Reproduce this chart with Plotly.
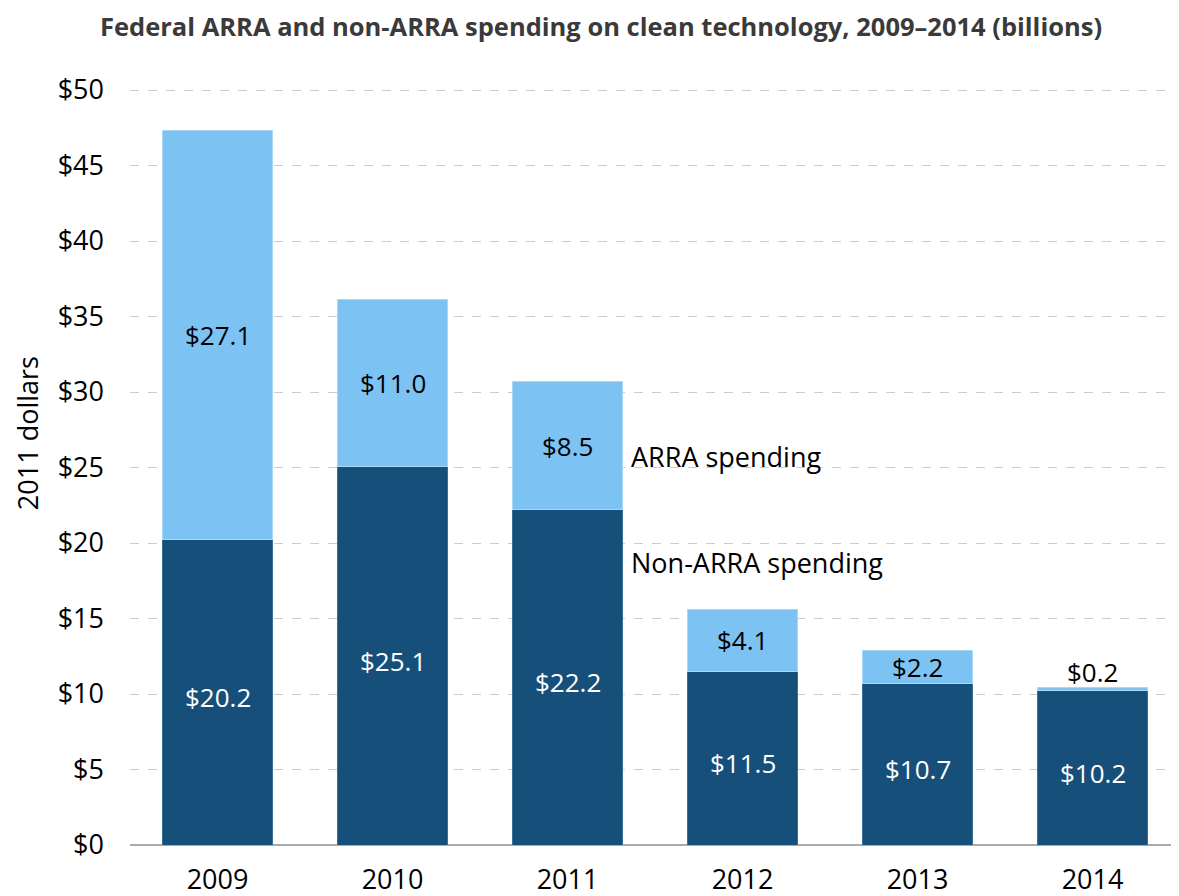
import plotly.graph_objects as go

years = ["2009", "2010", "2011", "2012", "2013", "2014"]
non_arra = [20.2, 25.1, 22.2, 11.5, 10.7, 10.2]
arra = [27.1, 11.0, 8.5, 4.1, 2.2, 0.2]
y_ticks = [0, 5, 10, 15, 20, 25, 30, 35, 40, 45, 50]
y_tick_labels = ["$" + str(v) for v in y_ticks]

DARK = "#174f7b"
LIGHT = "#7cc3f4"
FONT = "Open Sans"

fig = go.Figure()
fig.add_trace(go.Bar(x=years, y=non_arra, name="Non-ARRA spending",
                     marker=dict(color=DARK, line=dict(color="#3d6f96", width=1))))
fig.add_trace(go.Bar(x=years, y=arra, name="ARRA spending",
                     marker=dict(color=LIGHT, line=dict(color="#a9d7f7", width=1))))

annotations = []
for i, (d, a) in enumerate(zip(non_arra, arra)):
    annotations.append(dict(x=i, y=d / 2, xref="x", yref="y", text="$%.1f" % d,
                            showarrow=False, yshift=-5,
                            font=dict(color="white", size=26, family=FONT)))
    if a >= 1:
        annotations.append(dict(x=i, y=d + a / 2, xref="x", yref="y", text="$%.1f" % a,
                                showarrow=False,
                                font=dict(color="black", size=26, family=FONT)))
    else:
        annotations.append(dict(x=i, y=d + a, xref="x", yref="y", text="$%.1f" % a,
                                showarrow=False, yanchor="bottom", yshift=-4,
                                font=dict(color="black", size=26, family=FONT)))

# series labels next to the 2011 bar
annotations.append(dict(x=2.315, y=non_arra[2] + arra[2] / 2 - 0.7, xref="x", yref="y",
                        text="ARRA spending", showarrow=False, xanchor="left", xshift=6,
                        font=dict(color="black", size=27, family=FONT)))
annotations.append(dict(x=2.315, y=non_arra[2] - 3.5, xref="x", yref="y",
                        text="Non-ARRA spending", showarrow=False, xanchor="left", xshift=6,
                        font=dict(color="black", size=27, family=FONT)))
# y-axis title
annotations.append(dict(x=-0.098, y=0.5435, xref="paper", yref="paper", text="2011 dollars",
                        textangle=-90, showarrow=False, xanchor="center", yanchor="middle",
                        font=dict(color="black", size=27, family=FONT)))

fig.update_layout(
    barmode="stack",
    bargap=0.37,
    width=1172, height=888,
    margin=dict(l=122, r=0, t=79, b=51),
    paper_bgcolor="white", plot_bgcolor="white",
    showlegend=False,
    font=dict(family=FONT, color="black"),
    title=dict(text="<b>Federal ARRA and non-ARRA spending on clean technology, 2009–2014 (billions)</b>",
               x=0.506, xref="container", xanchor="center", y=0.979, yanchor="middle",
               font=dict(size=25.5, color="#3a3a3a", family=FONT)),
    annotations=annotations,
)
fig.update_xaxes(type="category", range=[-0.5, 5.5], showgrid=False,
                 tickfont=dict(size=27, family=FONT), ticks="", ticklabelstandoff=16,
                 showline=False, automargin=False)
fig.update_yaxes(range=[0, 50.2], tickvals=y_ticks, ticktext=y_tick_labels,
                 tickfont=dict(size=27, family=FONT), showgrid=True, gridcolor="#cccccc",
                 griddash="dash", gridwidth=1, zeroline=True, zerolinecolor="#aaaaaa",
                 zerolinewidth=1.5, ticklabelstandoff=25, automargin=False)

fig.write_html("out.html")
